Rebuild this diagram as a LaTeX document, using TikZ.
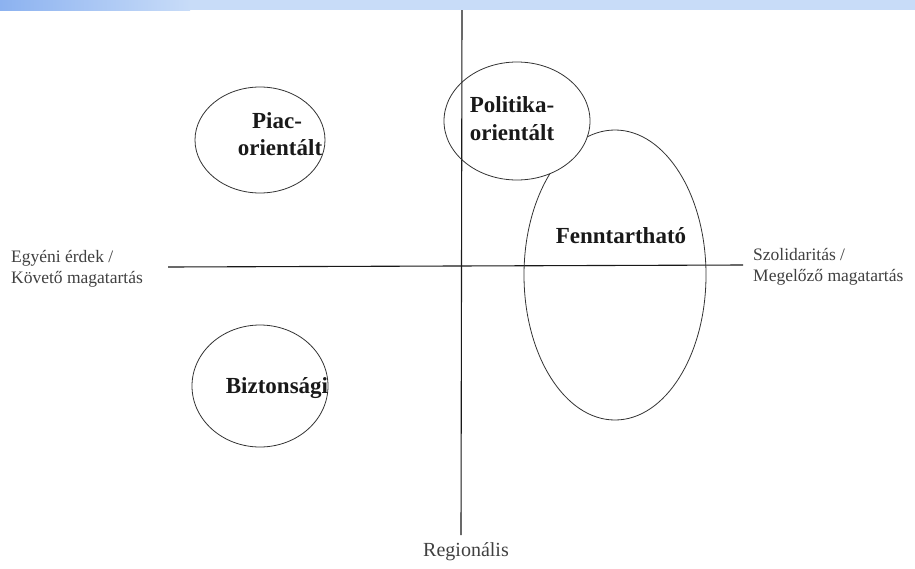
\documentclass[tikz,border=0pt]{standalone}
\usepackage{fontspec}
\setmainfont{Liberation Serif}
\begin{document}
\begin{tikzpicture}[x=1pt,y=-1pt,
  ell/.style={draw=black!80,line width=0.8pt},
  axis/.style={draw=black!90,line width=1.1pt},
  big/.style={font=\fontsize{23}{27}\selectfont\bfseries,anchor=base,text=black!90,inner sep=0pt},
  side/.style={font=\fontsize{17.5}{18}\selectfont,anchor=base west,text=black!75,inner sep=0pt}]
\useasboundingbox (0,0) rectangle (915,568);
\fill[white] (0,0) rectangle (915,568);
\fill[fill={rgb,255:red,200;green,220;blue,248}] (0,0) rectangle (915,10);
\shade[left color={rgb,255:red,140;green,178;blue,240}, right color={rgb,255:red,200;green,220;blue,248}] (0,0) rectangle (190,10);
% axes
\coordinate (vt) at (462,10);
\coordinate (vb) at (461,535);
\coordinate (hl) at (168,267);
\coordinate (hr) at (743,265);
\draw[axis] (vt) -- (vb);
\draw[axis] (hl) -- (hr);
% ellipses
\draw[ell] (260,140) ellipse [x radius=65, y radius=53];
\draw[ell] (517,121) ellipse [x radius=73, y radius=59];
\draw[ell] (260,386) ellipse [x radius=68, y radius=61];
% Fenntartható ellipse, hidden inside Politika
\begin{scope}[even odd rule]
\clip (0,0) rectangle (915,568) (517,121) ellipse [x radius=73, y radius=59];
\draw[ell] (615,275) ellipse [x radius=91, y radius=145];
\end{scope}
% labels
\node[big] (piac1) at (277,128) {Piac-};
\node[big] (piac2) at (280,155) {orientált};
\node[big] (pol1) at (512,112) {Politika-};
\node[big] (pol2) at (512,140) {orientált};
\node[big] (fenn) at (621,243) {Fenntartható};
\node[big] (bizt) at (277,393) {Biztonsági};
\node[side] (left1) at (11,262) {Egyéni érdek /};
\node[side] (left2) at (11,283) {Követő magatartás};
\node[side] (right1) at (753,260) {Szolidaritás /};
\node[side] (right2) at (753,281) {Megelőző magatartás};
\node[font=\fontsize{20}{22}\selectfont,text=black!75,anchor=base,inner sep=0pt] (reg) at (466,556) {Regionális};
\end{tikzpicture}
\end{document}
